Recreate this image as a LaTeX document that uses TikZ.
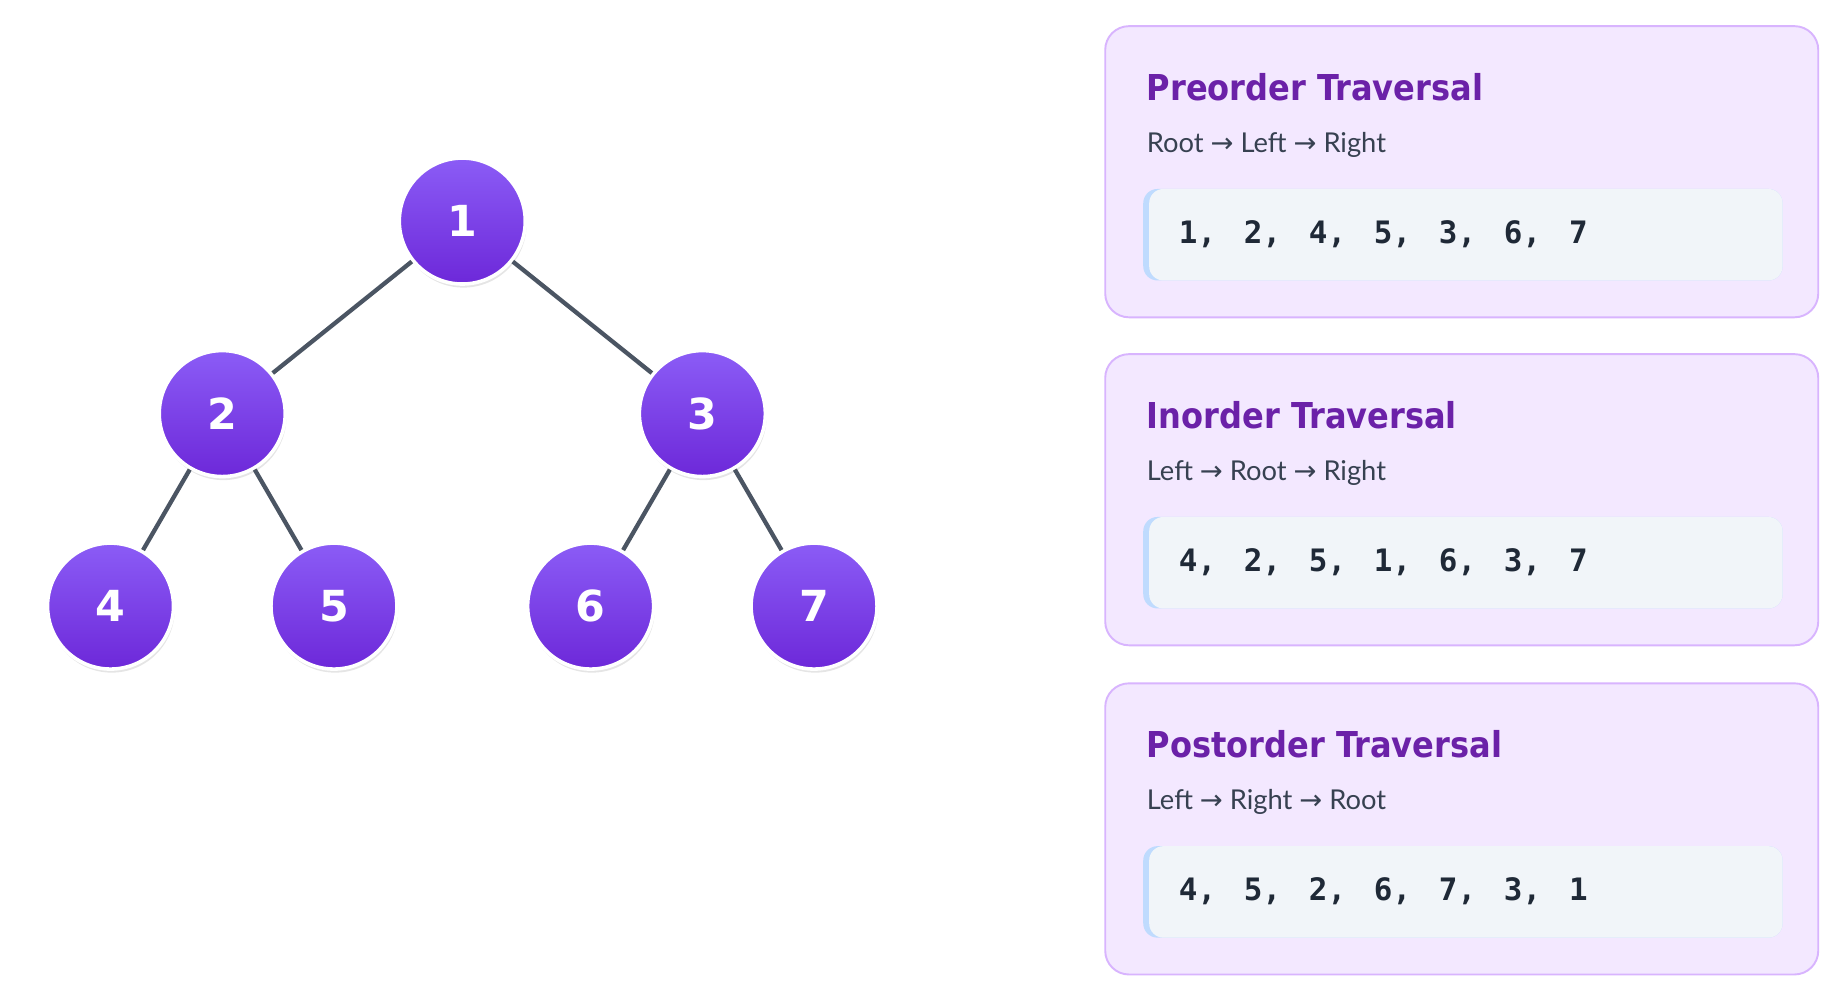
\documentclass[tikz,border=0pt]{standalone}
\usepackage{fontspec}
\setmainfont{Lato}
\newfontfamily\headfont{DejaVu Sans}
\newfontfamily\titlefont{DejaVu Sans Condensed}
\newfontfamily\arrowfont{DejaVu Sans}
\newfontfamily\codefont{DejaVu Sans Mono}
\usetikzlibrary{shadows}
\definecolor{nodeA}{HTML}{8B5CF6}
\definecolor{nodeB}{HTML}{6D28D9}
\definecolor{edgeC}{HTML}{4B5563}
\definecolor{cardF}{HTML}{F3E8FF}
\definecolor{cardD}{HTML}{D8B4FE}
\definecolor{titleC}{HTML}{6B21A8}
\definecolor{codeF}{HTML}{F1F5F9}
\definecolor{codeBar}{HTML}{BFDBFE}
\definecolor{textC}{HTML}{374151}
\definecolor{codeC}{HTML}{1F2937}
\newcommand{\ar}{{\arrowfont\char"2192}}
\newcommand{\sep}{,\hspace{0.9em}}
\begin{document}
\begin{tikzpicture}[x=0.5pt,y=-0.5pt,
  treenode/.style={circle,minimum size=53pt,inner sep=0pt,draw=white,line width=1.5pt,
    top color=nodeA,bottom color=nodeB,text=white,font=\headfont\bfseries\fontsize{18}{18}\selectfont,
    drop shadow={opacity=0.2,shadow xshift=0.5pt,shadow yshift=-1.5pt}},
  treeedge/.style={draw=edgeC,line width=1.8pt},
  card/.style={fill=cardF,draw=cardD,line width=0.8pt,rounded corners=10pt},
  cardtitle/.style={anchor=west,text=titleC,font=\titlefont\bfseries\fontsize{15}{15}\selectfont},
  cardsub/.style={anchor=west,text=textC,font=\fontsize{11.5}{11.5}\selectfont},
  codetext/.style={anchor=west,text=codeC,font=\codefont\bfseries\fontsize{13}{13}\selectfont}]
\useasboundingbox[fill=white] (0,0) rectangle (1550,830);
% Tree
\node[treenode] (n1) at (389,186) {1};
\node[treenode] (n2) at (187,348) {2};
\node[treenode] (n3) at (591,348) {3};
\node[treenode] (n4) at (93,510) {4};
\node[treenode] (n5) at (281,510) {5};
\node[treenode] (n6) at (497,510) {6};
\node[treenode] (n7) at (685,510) {7};
\foreach \a/\b in {n1/n2,n1/n3,n2/n4,n2/n5,n3/n6,n3/n7}
  \path[treeedge] (\a) -- (\b);
% Traversal cards
\foreach \y/\name/\order/\seq in {22/Preorder/Root \ar{} Left \ar{} Right/{1\sep 2\sep 4\sep 5\sep 3\sep 6\sep 7},
    298/Inorder/Left \ar{} Root \ar{} Right/{4\sep 2\sep 5\sep 1\sep 6\sep 3\sep 7},
    575/Postorder/Left \ar{} Right \ar{} Root/{4\sep 5\sep 2\sep 6\sep 7\sep 3\sep 1}}{
  \draw[card] (930,\y) rectangle (1530,\y+245);
  \node[cardtitle] (t\name) at (958,\y+51) {\name{} Traversal};
  \node[cardsub] (s\name) at (958,\y+100) {\order};
  \fill[codeBar,rounded corners=6pt] (962,\y+137) rectangle (1500,\y+214);
  \fill[codeF,rounded corners=6pt] (967,\y+137) rectangle (1500,\y+214);
  \node[codetext] (c\name) at (985,\y+175) {\seq};
}
\end{tikzpicture}
\end{document}
